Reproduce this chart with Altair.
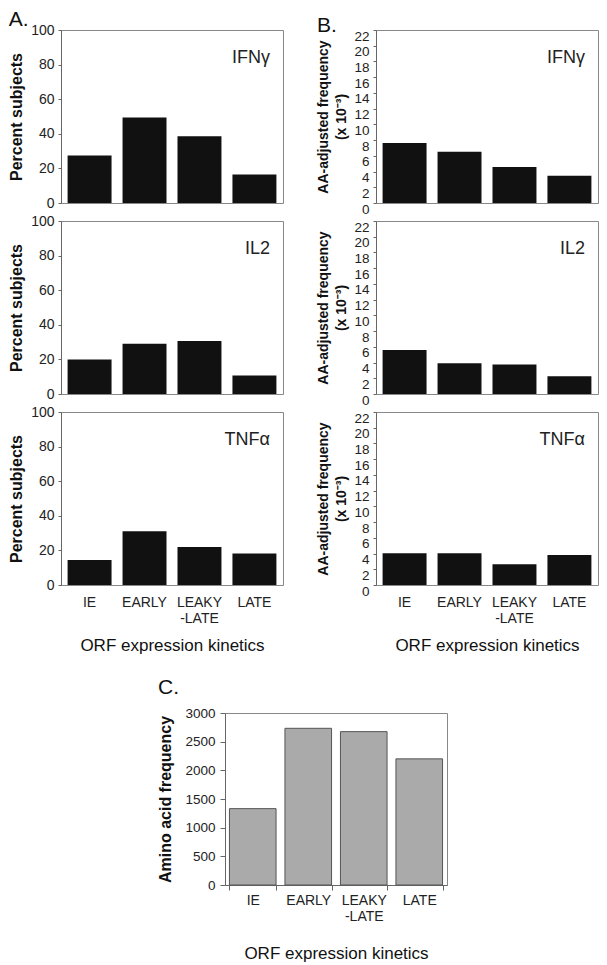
import altair as alt
import pandas as pd

categories = ["IE", "EARLY", "LEAKY-LATE", "LATE"]
cytokines = ["IFNγ", "IL2", "TNFα"]

pct_ifng = [27.5, 49.4, 38.6, 16.5]
pct_il2 = [20.0, 29.0, 30.7, 10.7]
pct_tnfa = [14.5, 31.0, 22.0, 18.2]

freq_ifng = [7.64, 6.53, 4.58, 3.48]
freq_il2 = [5.6, 3.9, 3.75, 2.26]
freq_tnfa = [4.04, 4.04, 2.64, 3.8]

aa_freq = [1332, 2733, 2675, 2200]

pct_ticks = [0, 20, 40, 60, 80, 100]
freq_ticks = [0, 2, 4, 6, 8, 10, 12, 14, 16, 18, 20, 22]
aa_ticks = [0, 500, 1000, 1500, 2000, 2500, 3000]

FONT = "Liberation Sans"
W = 222
H = 173
LABEL_EXPR = "datum.value == 'LEAKY-LATE' ? ['LEAKY', '-LATE'] : datum.label"


def panel(vals, cyt, ytitle, domain, ticks, show_x, title=None,
          label_offset=0, ytitle_size=16, ytitle_pad=6, label_size=14):
    df = pd.DataFrame({"cat": categories, "v": vals})
    if show_x:
        xaxis = alt.Axis(title="ORF expression kinetics", labelExpr=LABEL_EXPR,
                         labelAngle=0, ticks=False, labelPadding=10,
                         labelFontSize=14, labelLineHeight=16,
                         titleFontSize=17, titleFontWeight="normal",
                         titlePadding=12, domain=False)
    else:
        xaxis = None
    bars = alt.Chart(df).mark_bar(color="#111111").encode(
        x=alt.X("cat:N", sort=categories,
                scale=alt.Scale(paddingInner=0.2, paddingOuter=0.12),
                axis=xaxis),
        y=alt.Y("v:Q", scale=alt.Scale(domain=domain, nice=False),
                axis=alt.Axis(values=ticks, title=ytitle, grid=False,
                              tickSize=3, labelOffset=label_offset,
                              labelFontSize=label_size, labelPadding=4,
                              titleFontSize=ytitle_size,
                              titleFontWeight="bold",
                              titlePadding=ytitle_pad,
                              titleLineHeight=18)),
    )
    txt = alt.Chart(pd.DataFrame({"t": [cyt]})).mark_text(
        align="right", baseline="alphabetic", fontSize=18, font=FONT,
        color="#222222").encode(
        x=alt.value(W - 13), y=alt.value(33), text="t:N")
    ch = alt.layer(bars, txt)
    if title is not None:
        ch = ch.properties(width=W, height=H, title=alt.TitleParams(
            title, anchor="start", frame="bounds",
            fontSize=21, fontWeight="normal", font=FONT, offset=-7,
            color="#111111"))
    else:
        ch = ch.properties(width=W, height=H)
    return ch


colA = alt.vconcat(
    panel(pct_ifng, cytokines[0], "Percent subjects", [0, 100], pct_ticks, False, title="A."),
    panel(pct_il2, cytokines[1], "Percent subjects", [0, 100], pct_ticks, False),
    panel(pct_tnfa, cytokines[2], "Percent subjects", [0, 100], pct_ticks, True),
    spacing=18, bounds="flush",
)

btitle = ["AA-adjusted frequency", "(x 10\u207b\u00b3)"]
colB = alt.vconcat(
    panel(freq_ifng, cytokines[0], btitle, [0, 22], freq_ticks, False, title="B.",
          label_offset=6, ytitle_size=14, ytitle_pad=5, label_size=13.5),
    panel(freq_il2, cytokines[1], btitle, [0, 22], freq_ticks, False,
          label_offset=6, ytitle_size=14, ytitle_pad=5, label_size=13.5),
    panel(freq_tnfa, cytokines[2], btitle, [0, 22], freq_ticks, True,
          label_offset=6, ytitle_size=14, ytitle_pad=5, label_size=13.5),
    spacing=18, bounds="flush",
)

dfc = pd.DataFrame({"cat": categories, "v": aa_freq})
panelC = alt.Chart(dfc).mark_bar(color="#aaaaaa", stroke="#555555", strokeWidth=1).encode(
    x=alt.X("cat:N", sort=categories,
            scale=alt.Scale(paddingInner=0.16, paddingOuter=0.08),
            axis=alt.Axis(title="ORF expression kinetics", labelExpr=LABEL_EXPR,
                          labelAngle=0, ticks=True, tickBand="extent", tickSize=5,
                          labelPadding=3, labelFontSize=14, labelLineHeight=16,
                          titleFontSize=17, titleFontWeight="normal",
                          titlePadding=22)),
    y=alt.Y("v:Q", scale=alt.Scale(domain=[0, 3000], nice=False),
            axis=alt.Axis(values=aa_ticks, format="d", title="Amino acid frequency",
                          grid=False, tickSize=5, labelFontSize=13.5, labelPadding=5,
                          titleFontSize=16, titleFontWeight="bold", titlePadding=11)),
).properties(width=W, height=172, title=alt.TitleParams(
    "C.", anchor="start", frame="bounds", fontSize=21, fontWeight="normal", font=FONT,
    offset=8, color="#111111"))

spacer = alt.Chart(pd.DataFrame({"t": [""]})).mark_text().encode(
    x=alt.value(0), y=alt.value(0), text="t:N"
).properties(width=89, height=1, view=alt.ViewConfig(strokeOpacity=0))

bottom = alt.hconcat(spacer, panelC, spacing=7)
top = alt.hconcat(colA, colB, spacing=32)
chart = alt.vconcat(top, bottom, spacing=22).properties(
    padding={"left": 0, "top": 0, "right": 0, "bottom": 0}
).configure_view(stroke="#888888").configure_axis(
    labelFont=FONT, titleFont=FONT, domainColor="#666666", tickColor="#666666",
    labelColor="#222222", titleColor="#111111"
).configure_concat(spacing=17)

chart.save("out.html", embed_options={"renderer": "svg", "actions": False})
